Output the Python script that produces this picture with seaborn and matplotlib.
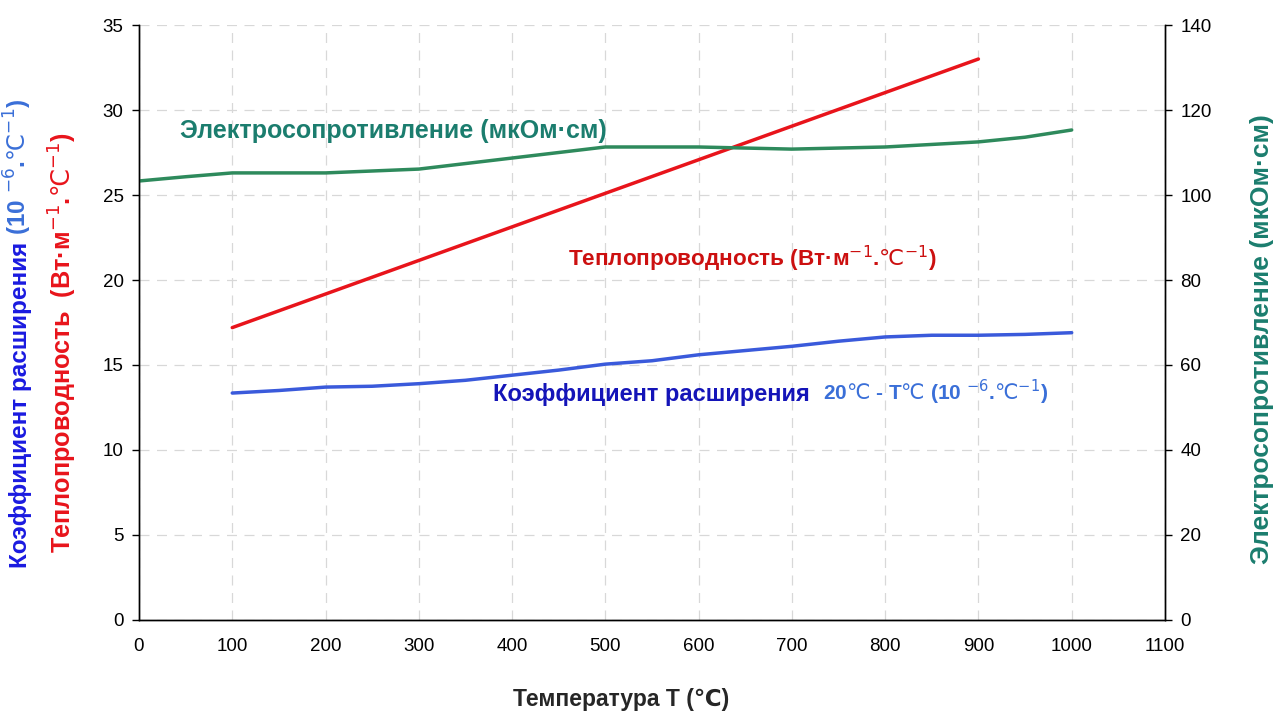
import matplotlib
matplotlib.use("Agg")
import matplotlib.pyplot as plt
import seaborn as sns
import pandas as pd

# Data
temp_resist = [0, 50, 100, 200, 300, 400, 500, 600, 700, 800, 900, 950, 1000]
resistivity = [103.3, 104.3, 105.2, 105.2, 106.1, 108.7, 111.3, 111.3, 110.8, 111.3, 112.5, 113.6, 115.3]

temp_cond = [100, 900]
conductivity = [17.2, 33.0]

temp_exp = [100, 150, 200, 250, 300, 350, 400, 450, 500, 550, 600, 650, 700, 750, 800, 850, 900, 950, 1000]
expansion = [13.35, 13.5, 13.7, 13.75, 13.9, 14.1, 14.4, 14.7, 15.05, 15.25, 15.6, 15.85, 16.1, 16.4, 16.65, 16.75, 16.75, 16.8, 16.9]

x_ticks = list(range(0, 1101, 100))
left_ticks = list(range(0, 36, 5))
right_ticks = list(range(0, 141, 20))

GREEN = "#2E8A5C"
TEAL = "#1B7D6E"
RED = "#E8141B"
DARKRED = "#CC1010"
BLUE = "#3A5ADB"
DARKBLUE = "#1414B8"
LIGHTBLUE = "#3A6FD8"

DEG = r"$\mathrm{℃}$"
SUP1 = r"$^{-1}$"
SUP6 = r"$^{-6}$"

sns.set_style("white")
plt.rcParams["font.family"] = ["Liberation Sans", "DejaVu Sans"]
plt.rcParams["mathtext.fontset"] = "dejavusans"

fig = plt.figure(figsize=(12.74, 7.15), dpi=100)
ax = fig.add_axes([0.1091, 0.1329, 0.8053, 0.8321])
ax2 = ax.twinx()

df_c = pd.DataFrame({"T": temp_cond, "v": conductivity})
df_e = pd.DataFrame({"T": temp_exp, "v": expansion})
df_r = pd.DataFrame({"T": temp_resist, "v": resistivity})

sns.lineplot(data=df_c, x="T", y="v", ax=ax, color=RED, lw=2.5)
sns.lineplot(data=df_e, x="T", y="v", ax=ax, color=BLUE, lw=2.5)
sns.lineplot(data=df_r, x="T", y="v", ax=ax2, color=GREEN, lw=2.5)

ax.set_xlim(0, 1100)
ax.set_ylim(0, 35)
ax2.set_ylim(0, 140)
ax.set_xticks(x_ticks)
ax.set_yticks(left_ticks)
ax2.set_yticks(right_ticks)
ax.set_xlabel("")
ax.set_ylabel("")
ax2.set_ylabel("")

ax.grid(True, ls=(0, (8, 6)), color="#D8D8D8", lw=0.9)
ax.set_axisbelow(True)
for a in (ax, ax2):
    a.spines["top"].set_visible(False)
    for s in ("left", "right", "bottom"):
        a.spines[s].set_color("black")
        a.spines[s].set_linewidth(1.0)
    a.tick_params(labelsize=13.5, length=5, width=1, color="black",
                  labelcolor="black", direction="out")
ax.tick_params(axis="x", pad=8)
ax.tick_params(axis="y", pad=6)
ax2.tick_params(axis="y", pad=6)

# in-plot annotations
ax.text(44, 28.35, "Электросопротивление (мкОм·см)", color=TEAL, fontsize=18,
        fontweight="bold", va="baseline", ha="left")
ax.text(460, 20.8, "Теплопроводность (Вт·м" + SUP1 + "." + DEG + SUP1 + ")", color=DARKRED,
        fontsize=16.2, fontweight="bold", va="baseline", ha="left")
t1 = ax.text(380, 12.9, "Коэффициент расширения  ", color=DARKBLUE, fontsize=17,
             fontweight="bold", va="baseline", ha="left")

# axis titles
fig.text(0.4874, 0.021, "Температура T (℃)", fontsize=16.5, fontweight="bold",
         ha="center", va="center")
fig.text(0.049, 0.521, "Теплопроводность  (Вт·м" + SUP1 + "." + DEG + SUP1 + ")", color=RED,
         fontsize=18.2, fontweight="bold", rotation=90, ha="center", va="center")
b1 = fig.text(0.021, 0.2056, "Коэффициент расширения ", color="#1A1AE0", fontsize=17.5,
              fontweight="bold", rotation=90, rotation_mode="anchor", ha="left", va="baseline")
fig.text(0.9906, 0.526, "Электросопротивление (мкОм·см)", color=TEAL, fontsize=19,
         fontweight="bold", rotation=90, ha="center", va="center")

# second-colour parts placed after the first parts
fig.canvas.draw()
bb = t1.get_window_extent()
x2 = ax.transData.inverted().transform((bb.x1, 0))[0]
ax.text(x2, 12.9, "20" + DEG + " - T" + DEG + " (10 " + SUP6 + "." + DEG + SUP1 + ")",
        color=LIGHTBLUE, fontsize=15, fontweight="bold", va="baseline", ha="left")
bb = b1.get_window_extent()
fig.text(0.021, bb.y1 / fig.bbox.height, "(10 " + SUP6 + "." + DEG + SUP1 + ")",
         color=LIGHTBLUE, fontsize=17.5, fontweight="bold", rotation=90,
         rotation_mode="anchor", ha="left", va="baseline")

fig.savefig("out.png", dpi=100)
